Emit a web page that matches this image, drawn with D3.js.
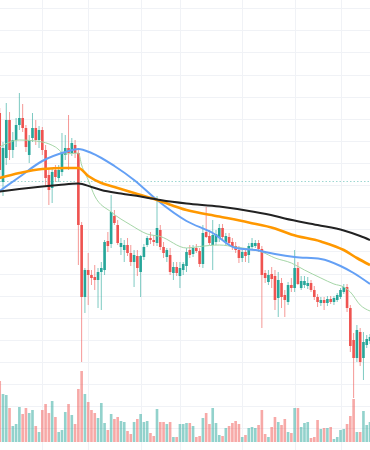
<!DOCTYPE html>
<html>
<head>
<meta charset="utf-8">
<script src="https://cdn.jsdelivr.net/npm/d3@7"></script>
<style>
  html, body { margin: 0; padding: 0; background: #fff; overflow: hidden; }
</style>
</head>
<body>
<script>
// candles, oldest first (price units)
const openPx = [34.7,27.8,30.2,34.0,31.0,32.0,33.5,34.2,33.2,30.5, 32.2,33.2,32.0,33.0,31.0,28.5,27.2,29.0,28.2,28.8,
  30.5,31.2,30.7,31.5,30.7,23.5,16.3,19.0,18.5,18.3, 18.0,18.8,19.0,21.9,21.6,24.4,23.5,21.3,21.0,21.5,
  20.7,19.8,20.4,18.8,20.3,21.5,22.2,22.0,21.7,23.0, 21.3,20.3,20.5,18.7,19.3,18.4,19.0,19.4,21.0,20.6,
  21.2,20.9,19.6,22.8,22.4,21.5,21.8,22.2,23.2,21.8, 22.3,21.8,21.4,21.0,20.2,20.8,20.5,21.3,21.4,21.7,
  21.1,18.7,17.8,18.6,18.4,16.2,17.7,16.5,15.8,17.5, 17.2,19.2,17.2,17.5,17.4,17.7,17.0,16.3,15.7,16.0,
  15.7,16.1,15.8,16.0,16.3,16.8,17.3,15.2,12.0,10.2, 12.8,10.2,11.5,11.9];
const highPx = [35.2,31.8,35.7,34.8,32.8,34.2,36.7,35.6,33.5,32.5, 34.7,34.0,33.4,33.3,31.5,29.2,29.2,29.5,29.5,32.7,
  32.5,34.5,32.2,32.0,31.0,23.8,19.2,20.7,19.0,19.5, 19.2,19.8,22.0,22.8,26.5,25.0,24.0,22.2,22.0,22.2,
  21.5,21.0,21.0,20.5,21.6,22.4,22.8,22.5,26.4,23.5, 21.8,21.2,21.2,19.8,19.8,19.8,19.8,21.2,21.5,21.5,
  21.6,21.2,23.5,25.3,23.0,24.0,23.0,23.6,23.6,22.7, 22.7,22.2,21.8,21.4,21.0,21.2,21.7,22.2,22.0,22.0,
  21.4,19.0,19.0,19.3,19.0,18.8,18.2,17.0,17.8,18.2, 21.0,19.8,18.4,18.4,18.3,18.0,17.4,16.6,16.3,16.3,
  16.4,16.4,16.4,16.7,17.2,17.6,17.6,15.5,12.7,13.5, 13.2,12.8,12.5,12.6];
const lowPx = [28.2,26.4,29.5,30.0,30.2,31.3,33.0,32.8,30.8,29.7, 31.8,31.5,31.2,30.5,27.3,25.5,25.7,27.8,27.8,28.4,
  30.0,29.0,30.4,30.2,19.5,9.8,14.7,15.5,17.5,17.0, 15.2,15.0,18.5,20.8,21.2,23.5,21.5,20.5,19.8,20.4,
  19.4,17.3,18.4,16.3,20.0,21.3,21.6,21.4,21.4,21.0, 20.2,19.8,18.5,18.0,18.4,17.2,18.5,18.8,20.2,20.3,
  20.7,19.3,19.2,22.2,21.5,19.0,21.5,21.8,22.0,21.5, 21.4,21.0,20.7,19.7,19.8,19.8,19.7,21.0,21.2,20.8,
  13.2,17.7,17.5,17.2,15.0,14.3,15.2,14.3,15.5,16.8, 16.8,17.5,17.0,17.2,17.1,16.8,16.0,15.3,15.4,15.0,
  15.4,15.6,15.5,15.8,16.1,16.6,14.8,10.8,6.2,9.8, 9.4,8.0,11.2,11.6];
const closePx = [29.0,31.2,34.0,31.0,32.0,33.5,34.2,33.2,31.3,32.0, 33.2,32.0,33.0,31.0,28.2,27.0,28.8,28.3,29.0,30.8,
  31.2,30.7,31.7,30.7,23.5,16.3,19.0,18.5,18.2,18.0, 18.8,19.2,21.8,21.4,24.8,23.7,21.7,21.7,21.5,20.7,
  19.8,20.5,19.2,20.4,21.3,22.2,22.0,21.8,23.2,21.3, 20.7,21.0,18.8,19.3,18.7,19.2,19.6,20.8,20.5,21.2,
  20.9,19.6,22.7,22.3,21.7,22.5,22.6,23.2,22.3,22.4, 21.7,21.3,21.0,20.2,20.8,20.4,21.4,21.7,21.7,21.1,
  18.5,18.2,18.5,18.1,16.0,18.0,16.3,16.0,17.5,17.2, 19.2,17.6,17.9,17.9,17.7,17.0,16.3,15.8,16.0,15.7,
  16.1,15.8,16.2,16.5,17.0,17.3,15.2,11.4,10.2,13.0, 9.8,11.8,12.1,12.3];
const volume = [61,48,47,34,16,18,35,28,34,29, 32,16,10,32,38,29,41,25,10,12,
  30,38,27,18,53,71,48,40,32,29, 24,39,19,12,28,23,25,21,20,11,
  8,20,23,28,20,21,9,6,33,20, 20,18,20,5,5,18,18,19,19,16,
  5,6,24,29,18,34,19,7,6,14, 16,19,21,18,5,7,14,15,14,17,
  32,8,5,15,25,20,17,23,10,9, 34,34,15,19,20,4,5,22,13,14,
  14,15,3,5,12,13,18,26,43,10, 10,31,17,20];

// moving averages: [candle index, value]
const ma10 = [[0,31.3],[6,32.0],[13,31.8],[17,31.3],[20,30.6],[24,30.7],[25,29.5],[27,28.0],[29,26.4],[34,24.8],
  [40,23.5],[45,22.6],[49,22.35],[57,21.2],[61,21.35],[67,21.5],[72,21.3],[76,21.1],[80,20.8],[84,20.2],
  [89,19.7],[93,19.0],[98,18.2],[102,17.6],[105,17.3],[107,16.8],[110,15.5],[113,14.9]];
const ma20 = [[0,26.9],[6,28.3],[13,29.9],[20,30.8],[24,31.1],[28,30.7],[35,29.4],[41,28.0],[48,26.0],[57,23.9],
  [65,22.7],[72,21.2],[78,21.0],[84,20.6],[90,20.3],[98,20.1],[104,19.4],[108,18.7],[113,17.6]];
const ma50 = [[0,28.2],[6,28.7],[13,29.1],[20,29.2],[24,29.2],[27,28.4],[31,27.7],[35,27.3],[41,26.7],[48,26.0],
  [57,25.0],[67,24.35],[76,23.75],[84,23.15],[89,22.55],[98,21.85],[105,21.0],[109,20.2],[113,19.5]];
const ma100 = [[0,26.85],[6,27.1],[13,27.35],[18,27.5],[24,27.65],[28,27.3],[31,27.0],[37,26.65],[43,26.35],[49,26.0],
  [57,25.65],[67,25.35],[77,24.85],[84,24.4],[87,24.15],[97,23.5],[105,22.95],[110,22.4],[113,22.0]];

const timeTicks = [13, 27, 43, 55, 74, 90, 104];   // candle index of each time grid line
const priceGridFrom = 3.18, priceGridStep = 2.21;
const lastPrice = 27.95;

const upColor = "#26a69a", downColor = "#ef5350";

const W = 370, H = 450;
const svg = d3.select("body").append("svg")
  .attr("width", W)
  .attr("height", H);

const n = closePx.length;
const x = d3.scaleLinear().domain([0, n - 1]).range([-0.28, 370]);
const y = d3.scaleLinear().domain([0, 46]).range([460, 0]);
const yVol = d3.scaleLinear().domain([0, d3.max(volume)]).range([442, 371]);
const step = x(1) - x(0);
const bodyW = step * 0.8;

const candles = d3.range(n).map(i => ({
  i, o: openPx[i], h: highPx[i], l: lowPx[i], c: closePx[i], v: volume[i],
  up: closePx[i] >= openPx[i]
}));

// grid
const grid = svg.append("g").attr("stroke", "#f0f2f6").attr("stroke-width", 1);
grid.selectAll("line.h")
  .data(d3.range(priceGridFrom, 46, priceGridStep))
  .enter().append("line")
  .attr("x1", 0).attr("x2", W)
  .attr("y1", d => Math.round(y(d)) + 0.5)
  .attr("y2", d => Math.round(y(d)) + 0.5);
grid.selectAll("line.v")
  .data(timeTicks)
  .enter().append("line")
  .attr("y1", 0).attr("y2", H)
  .attr("x1", d => Math.round(x(d)) + 0.5)
  .attr("x2", d => Math.round(x(d)) + 0.5);

// last price line
svg.append("line")
  .attr("x1", 0).attr("x2", W)
  .attr("y1", Math.round(y(lastPrice)) + 0.5)
  .attr("y2", Math.round(y(lastPrice)) + 0.5)
  .attr("stroke", "rgba(38,166,154,0.45)")
  .attr("stroke-dasharray", "1.5,2");

// volume
svg.append("g").selectAll("rect")
  .data(candles)
  .enter().append("rect")
  .attr("x", d => x(d.i) - bodyW / 2)
  .attr("width", bodyW)
  .attr("y", d => yVol(d.v))
  .attr("height", d => yVol(0) - yVol(d.v))
  .attr("fill", d => d.up ? "rgba(38,166,154,0.5)" : "rgba(239,83,80,0.5)");

// wicks
svg.append("g").selectAll("line")
  .data(candles)
  .enter().append("line")
  .attr("x1", d => x(d.i)).attr("x2", d => x(d.i))
  .attr("y1", d => y(d.h)).attr("y2", d => y(d.l))
  .attr("stroke", d => d.up ? "rgba(38,166,154,0.6)" : "rgba(239,83,80,0.6)")
  .attr("stroke-width", 1);

// bodies
svg.append("g").selectAll("rect")
  .data(candles)
  .enter().append("rect")
  .attr("x", d => x(d.i) - bodyW / 2)
  .attr("width", bodyW)
  .attr("y", d => y(Math.max(d.o, d.c)))
  .attr("height", d => Math.max(1, Math.abs(y(d.o) - y(d.c))))
  .attr("fill", d => d.up ? upColor : downColor);

// moving averages
const line = d3.line()
  .x(d => x(d[0]))
  .y(d => y(d[1]))
  .curve(d3.curveMonotoneX);

[
  { data: ma10, color: "#a5d6a7", w: 1 },
  { data: ma20, color: "#64a0f5", w: 2 },
  { data: ma50, color: "#ff9800", w: 2.6 },
  { data: ma100, color: "#222222", w: 2 }
].forEach(s => {
  svg.append("path")
    .datum(s.data)
    .attr("d", line)
    .attr("fill", "none")
    .attr("stroke", s.color)
    .attr("stroke-width", s.w)
    .attr("stroke-linejoin", "round");
});
</script>
</body>
</html>
